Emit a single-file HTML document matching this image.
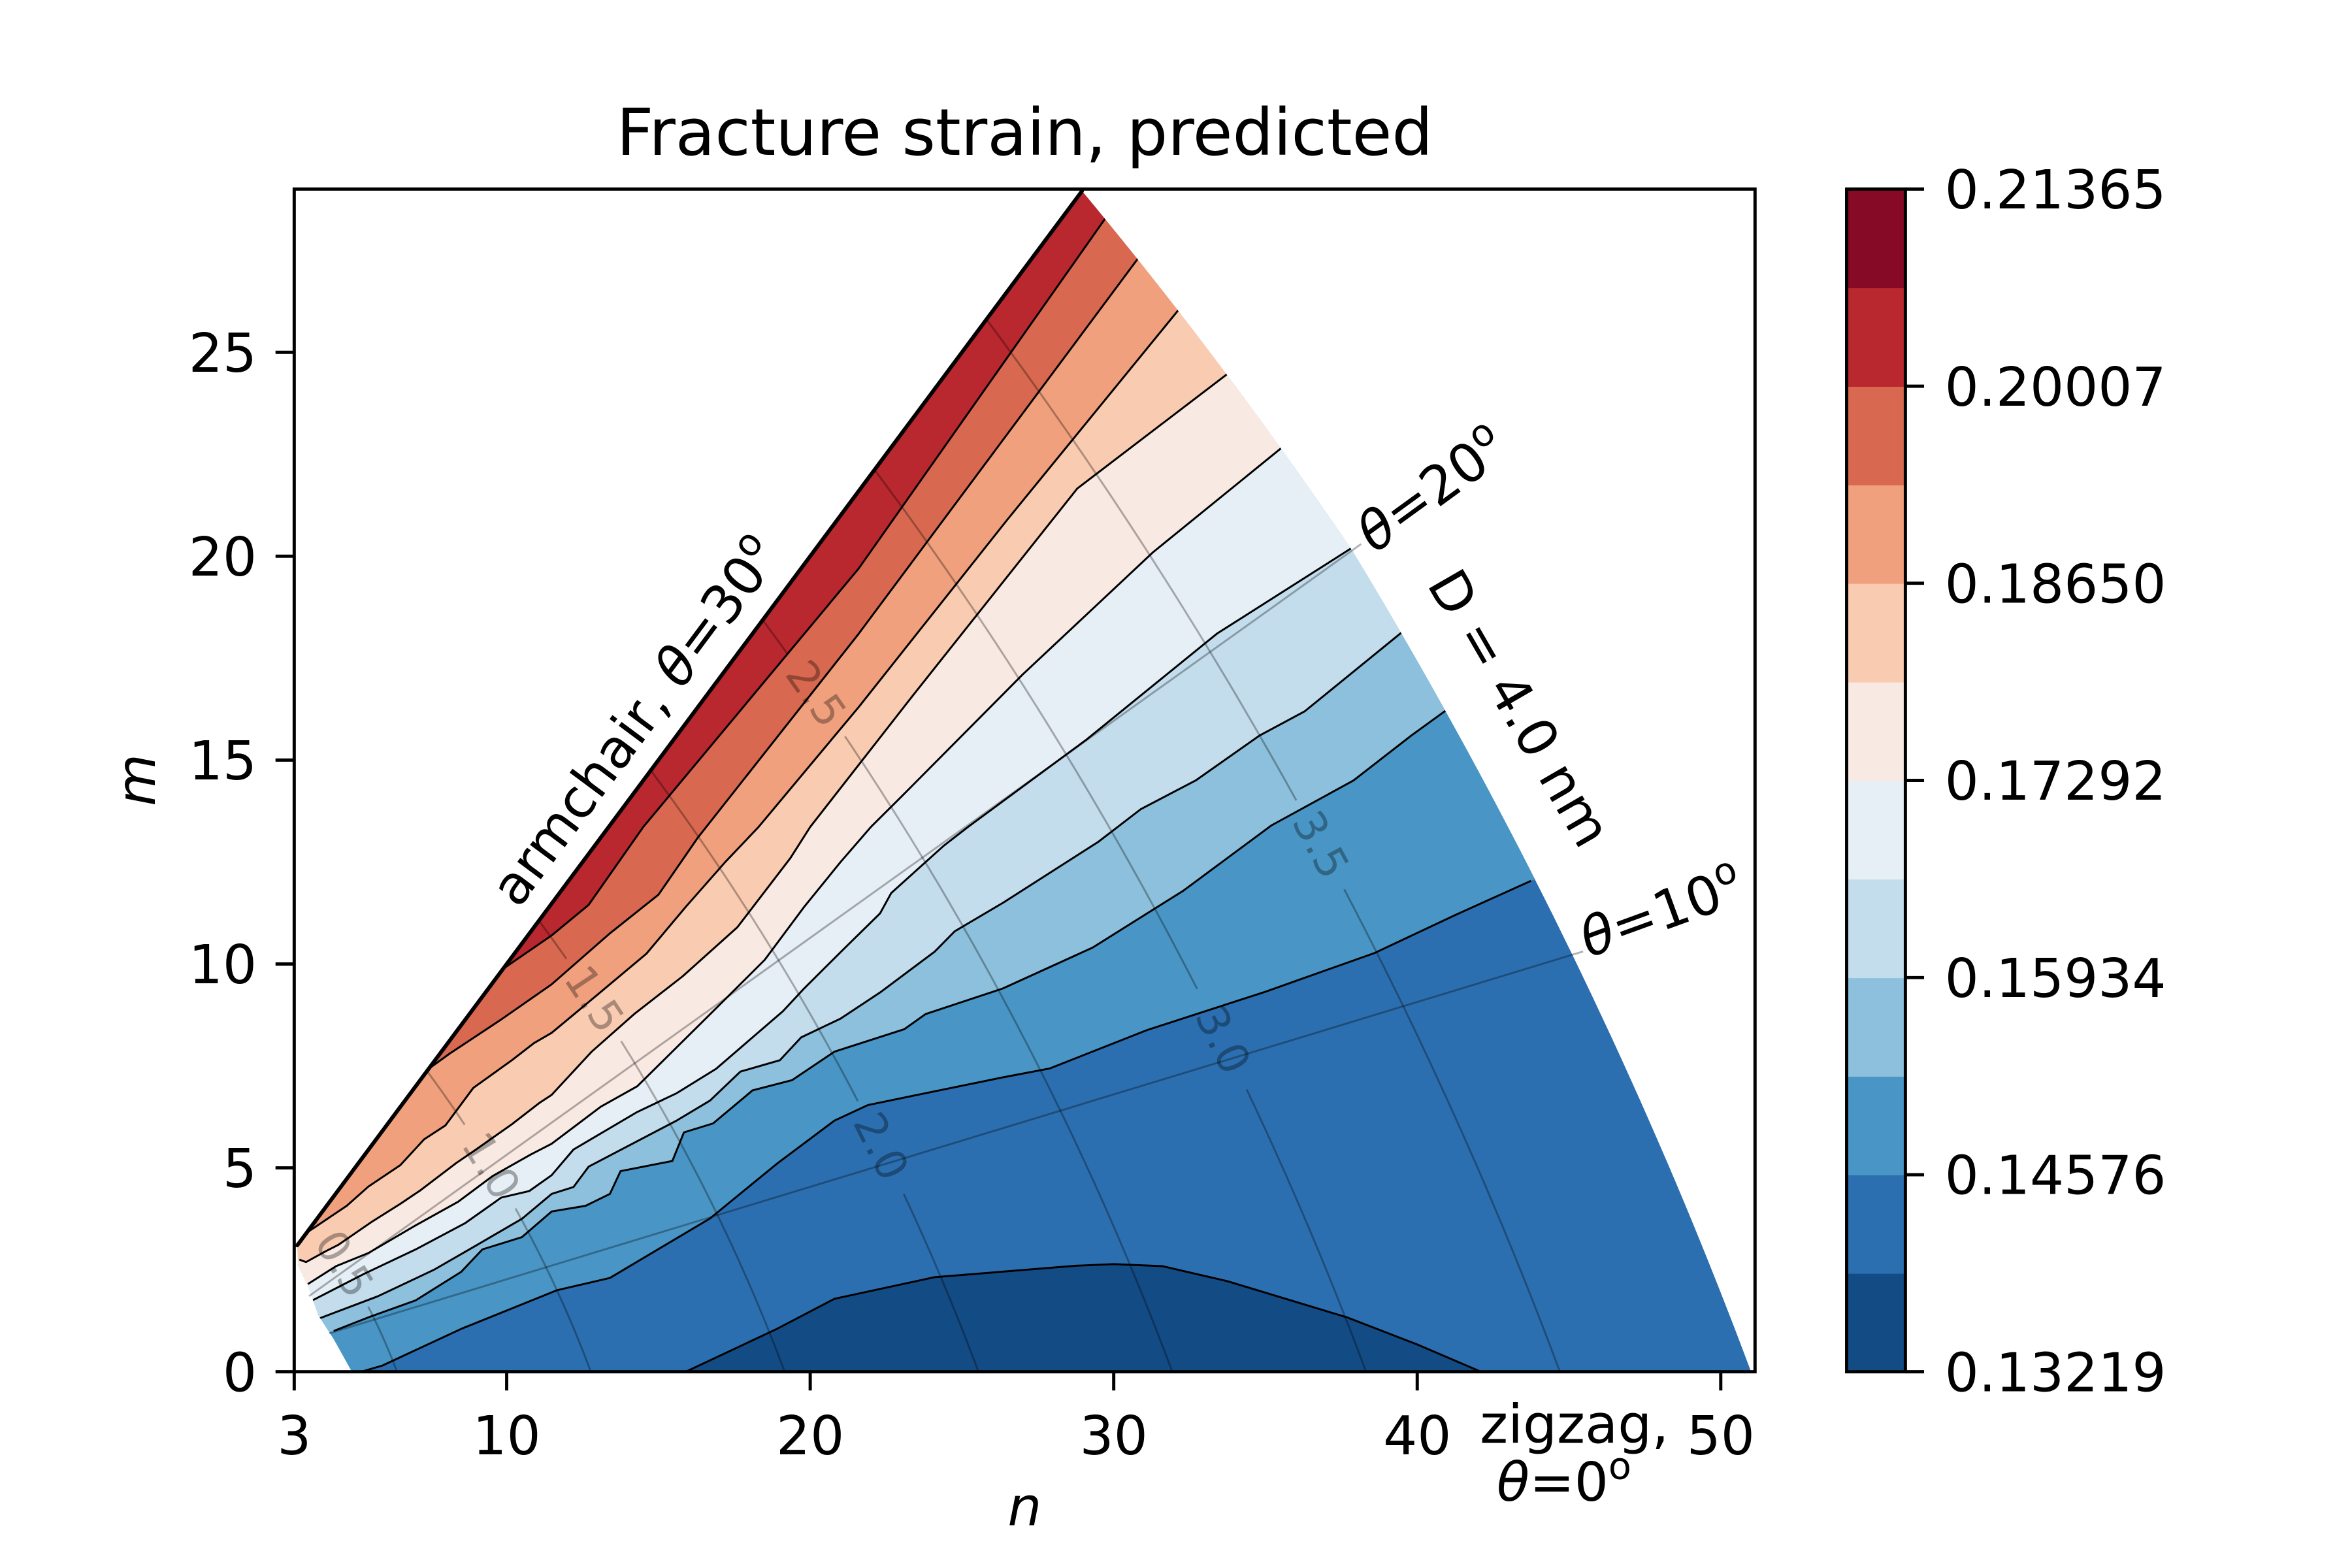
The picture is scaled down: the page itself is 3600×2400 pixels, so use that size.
<!DOCTYPE html>
<html>
<head>
<meta charset="utf-8">
<style>
html,body{margin:0;padding:0;background:#fff;}
svg{display:block;}
text{font-family:"DejaVu Sans","Liberation Sans",sans-serif;}
</style>
</head>
<body>
<svg id="chart" xmlns="http://www.w3.org/2000/svg" width="3600" height="2400" viewBox="0 0 3600 2400">
  <rect x="0" y="0" width="3600" height="2400" fill="#ffffff"/>
  <defs>
    <clipPath id="domainClip"><path id="domainPath" d=""/></clipPath>
  </defs>
  <g transform="scale(0.9876)">
  <g id="fills" clip-path="url(#domainClip)"></g>
  <g id="lines" clip-path="url(#domainClip)"></g>
  <g id="guides"></g>
  <g id="axes"></g>
  <g id="cbar"></g>
  <g id="annot"></g>
  </g>
</svg>
<script>
// ---------- data ----------
const levels = [0.13219,0.13898,0.14576,0.15255,0.15934,0.16613,0.17292,0.1797,0.18650,0.19328,0.20007,0.20686,0.21365];
const bandColors = ['#134b85','#2c6fb0','#4996c6','#8dc0dc','#c3dded','#e6eff5','#f8e9e2','#f9cbb1','#f0a07d','#d8684f','#b9272f','#860a25'];
const xTicks = [3,10,20,30,40,50];
const yTicks = [0,5,10,15,20,25];
const cbarTickLabels = ['0.13219','0.14576','0.15934','0.17292','0.18650','0.20007','0.21365'];
const diamLevels = [0.5,1.0,1.5,2.0,2.5,3.0,3.5];
const diamLabelTheta = [21,20,24.4,10.8,26.8,10.6,14.5];
const angleLines = [10,20];
// contour lines (n, m) for level boundaries levels[1..10]
const c1 = [[15.9,0],[18.9,1.05],[20.8,1.79],[24.1,2.32],[28.75,2.6],[30,2.64],[31.6,2.59],[33.75,2.22],[37.7,1.33],[40,0.67],[42.1,0]];
const c2 = [[5.2,0],[5.9,0.15],[8.5,1.05],[11.66,2.0],[13.4,2.3],[16.7,3.76],[18.9,5.1],[20.8,6.16],[21.9,6.54],[23.4,6.77],[26.35,7.22],[27.9,7.44],[31.1,8.38],[35,9.32],[38.6,10.27],[41.25,11.2],[43.75,12.04]];
const c3 = [[4.3,1.0],[5.5,1.35],[7,1.75],[8.5,2.45],[9.2,3.0],[10.5,3.3],[11.48,3.93],[12.6,4.07],[13.4,4.36],[13.75,4.92],[15.46,5.17],[15.84,5.87],[16.8,6.09],[18.1,6.9],[19.4,7.15],[20.8,7.85],[23.1,8.4],[23.8,8.77],[26.35,9.4],[29.3,10.4],[32.3,11.8],[35.2,13.4],[37.9,14.5],[39.8,15.6],[41.1,16.3]];
const c4 = [[3.8,1.3],[5.75,1.85],[7.6,2.5],[9.0,3.1],[10.5,3.75],[11.48,4.36],[12.2,4.53],[12.7,5.03],[15.6,6.16],[16.7,6.65],[17.7,7.36],[19.0,7.64],[19.7,8.2],[21.0,8.66],[22.3,9.3],[24.1,10.3],[24.76,10.8],[26.35,11.5],[29.5,13.0],[30.9,13.8],[32.7,14.5],[34.8,15.6],[36.3,16.2],[39.6,18.2]];
const c5 = [[3.6,1.75],[5.3,2.4],[7,3.0],[8.62,3.64],[9.82,4.27],[10.74,4.43],[11.48,4.82],[12.2,5.45],[14.3,6.37],[15.6,6.83],[16.9,7.43],[19.1,8.84],[19.8,9.4],[21.15,10.4],[22.3,11.24],[22.67,11.74],[24.4,12.9],[25.2,13.36],[29.1,15.5],[33.4,18.1],[38.05,20.3]];
const c6 = [[3.45,2.15],[4.38,2.59],[5.44,2.91],[7,3.59],[8.4,4.17],[9.54,4.8],[10.8,5.33],[11.48,5.59],[13.1,6.5],[14.3,7.0],[16.8,8.84],[18.5,10.1],[19.8,11.4],[21.0,12.5],[22.0,13.36],[23.0,14.1],[27,17.1],[31.3,20.1],[35.6,22.7]];
const c7 = [[3.17,2.75],[3.39,2.69],[4.02,2.95],[4.45,3.11],[5.58,3.69],[6.5,4.12],[7.14,4.44],[8.34,5.12],[8.97,5.44],[10.17,6.07],[11.09,6.6],[11.48,6.79],[12.8,7.85],[14.2,8.77],[15.8,9.7],[17.6,10.9],[19.35,12.6],[20.0,13.36],[23.4,16.6],[28.8,21.66],[33.8,24.5]];
const c8 = [[3.18,3.3],[3.67,3.54],[4.73,4.07],[5.44,4.54],[6.5,5.07],[7.28,5.7],[7.98,6.04],[8.9,6.96],[10.17,7.64],[10.9,8.06],[11.48,8.31],[12.9,9.19],[14.6,10.25],[15.9,11.4],[17.2,12.5],[18.3,13.36],[21.6,16.3],[26.5,20.9],[32.2,26.1]];
const c9 = [[7.28,7.35],[8.12,7.8],[9.82,8.64],[11.48,9.5],[13.4,10.75],[15.0,11.7],[16.3,13.1],[21.6,18.1],[30.9,27.4]];
const c10 = [[9.82,9.85],[11.48,10.7],[12.7,11.45],[14.5,13.36],[21.6,19.7],[29.87,28.44]];
const contours = [c1,c2,c3,c4,c5,c6,c7,c8,c9,c10];

// ---------- axis functions ----------
const NS = 'http://www.w3.org/2000/svg';
const AX = {left:456,right:2720,top:293,bottom:2126};
const X = n => AX.left + (n-3)*47.04;
const Y = m => AX.bottom - m*63.2;
const S3 = Math.sqrt(3);
const RB = th => th <= 20 ? 51.0 : 51.0 - 0.085*(th-20);   // D = 4 nm boundary radius
function nm(R, thDeg){ const t = thDeg*Math.PI/180; return [R*Math.cos(t) - R*Math.sin(t)/S3, 2*R*Math.sin(t)/S3]; }
function mk(tag, parent){ const e = document.createElementNS(NS, tag); parent.appendChild(e); return e; }
function pathOf(pts){ return pts.map((p,i)=>(i?'L':'M')+X(p[0]).toFixed(1)+','+Y(p[1]).toFixed(1)).join(' '); }

// ---------- domain ----------
const domainPts = [[4.9,0],[4.3,0.8],[3.8,1.38],[3.46,2.1],[3.13,2.6],[3.1,3.1]];
for (let th=30; th>=0; th-=0.5) domainPts.push(nm(RB(th), th));
document.getElementById('domainPath').setAttribute('d', pathOf(domainPts)+' Z');

// ---------- fills ----------
const fills = document.getElementById('fills');
const base = mk('path', fills);
base.setAttribute('d', pathOf(domainPts)+' Z');
base.setAttribute('fill', bandColors[1]);



const b0 = mk('path', fills);
b0.setAttribute('d', pathOf([[c1[0][0],-1]].concat(c1,[[c1[c1.length-1][0],-1]]))+' Z');
b0.setAttribute('fill', bandColors[0]);



for (let k=2; k<=10; k++){
  const c = contours[k-1];
  const s = c[0], e = c[c.length-1];
  const pts = [[-10, s[1]*0.5],[s[0]*0.5, s[1]*0.5]].concat(c, [[e[0]*1.2, e[1]*1.2],[70,70],[-10,70]]);
  const p = mk('path', fills);
  p.setAttribute('d', pathOf(pts)+' Z');
  p.setAttribute('fill', bandColors[k]);
  
  
}

// ---------- contour lines ----------
const lines = document.getElementById('lines');
contours.forEach((c,i)=>{
  const p = mk('path', lines);
  p.setAttribute('d', pathOf(c));
  p.setAttribute('fill', 'none');
  p.setAttribute('stroke', '#000');
  p.setAttribute('stroke-width', '3');
  p.setAttribute('stroke-linejoin', 'round');
  
  
});

// armchair edge line
const guides = document.getElementById('guides');
const arm = mk('path', guides);
arm.setAttribute('d', pathOf([[3.1,3.1], nm(RB(30),30)]));
arm.setAttribute('stroke', '#000');
arm.setAttribute('stroke-width', '6');
arm.setAttribute('stroke-linecap', 'round');



// ---------- diameter iso-lines ----------
diamLevels.forEach((D,i)=>{
  const R = D/0.0783;
  const thL = diamLabelTheta[i];
  const lp = nm(R, thL);
  const lx = X(lp[0]), ly = Y(lp[1]);
  let d = '', pen = false;
  for (let th=30; th>=-0.01; th-=0.25){
    const q = nm(R, Math.max(th,0));
    const x = X(q[0]), y = Y(q[1]);
    const far = Math.hypot(x-lx, y-ly) > 75;
    if (far){ d += (pen?'L':'M')+x.toFixed(1)+','+y.toFixed(1)+' '; pen = true; } else pen = false;
  }
  const p = mk('path', guides);
  p.setAttribute('d', d);
  p.setAttribute('fill', 'none');
  p.setAttribute('stroke', 'rgba(0,0,0,0.3)');
  p.setAttribute('stroke-width', '3');
  p.setAttribute('clip-path', 'url(#domainClip)');
  
  
  const t = thL*Math.PI/180;
  const dn = R*(-Math.sin(t) - Math.cos(t)/S3), dm = 2*R*Math.cos(t)/S3;
  let ang = Math.atan2(-63.2*dm, 47.04*dn)*180/Math.PI;
  if (ang > 90) ang -= 180; if (ang <= -90) ang += 180;
  const tx = mk('text', guides);
  tx.textContent = D.toFixed(1);
  tx.setAttribute('x', 0); tx.setAttribute('y', 0);
  tx.setAttribute('transform', 'translate('+lx.toFixed(1)+','+ly.toFixed(1)+') rotate('+ang.toFixed(1)+')');
  tx.setAttribute('text-anchor', 'middle');
  tx.setAttribute('dominant-baseline', 'central');
  tx.setAttribute('font-size', '67');
  tx.setAttribute('fill', 'rgba(0,0,0,0.32)');
  
  
});

// ---------- chiral angle lines ----------
angleLines.forEach(th=>{
  const p = mk('path', guides);
  p.setAttribute('d', pathOf([nm(4.7, th), nm(51.4, th)]));
  p.setAttribute('stroke', 'rgba(0,0,0,0.3)');
  p.setAttribute('stroke-width', '3');
  
  
});

// ---------- axes ----------
const axes = document.getElementById('axes');
const frame = mk('rect', axes);
frame.setAttribute('x', AX.left); frame.setAttribute('y', AX.top);
frame.setAttribute('width', AX.right-AX.left); frame.setAttribute('height', AX.bottom-AX.top);
frame.setAttribute('fill', 'none'); frame.setAttribute('stroke', '#000'); frame.setAttribute('stroke-width', '5');


xTicks.forEach(v=>{
  const l = mk('line', axes);
  l.setAttribute('x1', X(v)); l.setAttribute('x2', X(v)); l.setAttribute('y1', AX.bottom); l.setAttribute('y2', AX.bottom+29);
  l.setAttribute('stroke', '#000'); l.setAttribute('stroke-width', '5');
  
  
  const t = mk('text', axes);
  t.textContent = String(v);
  t.setAttribute('x', X(v)); t.setAttribute('y', 2254);
  t.setAttribute('text-anchor', 'middle'); t.setAttribute('font-size', '83');
  
  
});
yTicks.forEach(v=>{
  const l = mk('line', axes);
  l.setAttribute('x1', AX.left-29); l.setAttribute('x2', AX.left); l.setAttribute('y1', Y(v)); l.setAttribute('y2', Y(v));
  l.setAttribute('stroke', '#000'); l.setAttribute('stroke-width', '5');
  
  
  const t = mk('text', axes);
  t.textContent = String(v);
  t.setAttribute('x', 398); t.setAttribute('y', Y(v)+30);
  t.setAttribute('text-anchor', 'end'); t.setAttribute('font-size', '83');
  
  
});
const xl = mk('text', axes);
xl.textContent = 'n';
xl.setAttribute('x', 1588); xl.setAttribute('y', 2364);
xl.setAttribute('text-anchor', 'middle'); xl.setAttribute('font-size', '83'); xl.setAttribute('font-style', 'italic');


const yl = mk('text', axes);
yl.textContent = 'm';
yl.setAttribute('transform', 'translate(240,1209) rotate(-90)');
yl.setAttribute('text-anchor', 'middle'); yl.setAttribute('font-size', '83'); yl.setAttribute('font-style', 'italic');


const title = mk('text', axes);
title.textContent = 'Fracture strain, predicted';
title.setAttribute('x', 1588); title.setAttribute('y', 240);
title.setAttribute('text-anchor', 'middle'); title.setAttribute('font-size', '100');



// ---------- colorbar ----------
const cbar = document.getElementById('cbar');
const CB = {x:2862, w:91, top:293, bottom:2126};
const CY = v => CB.bottom - (v-levels[0])/(levels[levels.length-1]-levels[0])*(CB.bottom-CB.top);
bandColors.forEach((col,i)=>{
  const r = mk('rect', cbar);
  r.setAttribute('x', CB.x); r.setAttribute('width', CB.w);
  r.setAttribute('y', CY(levels[i+1]).toFixed(1)); r.setAttribute('height', (CY(levels[i])-CY(levels[i+1])+0.8).toFixed(1));
  r.setAttribute('fill', col);
  
  
});
const cbf = mk('rect', cbar);
cbf.setAttribute('x', CB.x); cbf.setAttribute('y', CB.top); cbf.setAttribute('width', CB.w); cbf.setAttribute('height', CB.bottom-CB.top);
cbf.setAttribute('fill', 'none'); cbf.setAttribute('stroke', '#000'); cbf.setAttribute('stroke-width', '5');


cbarTickLabels.forEach((lab,i)=>{
  const y = CY(levels[i*2]);
  const l = mk('line', cbar);
  l.setAttribute('x1', CB.x+CB.w); l.setAttribute('x2', CB.x+CB.w+29); l.setAttribute('y1', y); l.setAttribute('y2', y);
  l.setAttribute('stroke', '#000'); l.setAttribute('stroke-width', '5');
  
  
  const t = mk('text', cbar);
  t.textContent = lab;
  t.setAttribute('x', 3014); t.setAttribute('y', y+30);
  t.setAttribute('font-size', '83');
  
  
});

// ---------- annotations ----------
const annot = document.getElementById('annot');
function thetaText(prefix, val, x, y, rot, anchor, name){
  const t = mk('text', annot);
  t.setAttribute('transform', 'translate('+x+','+y+') rotate('+rot+')');
  t.setAttribute('text-anchor', anchor);
  t.setAttribute('font-size', '83');
  
  
  if (prefix){ const a = mk('tspan', t); a.textContent = prefix; }
  const th = mk('tspan', t); th.textContent = 'θ'; th.setAttribute('font-style', 'italic');
  const eq = mk('tspan', t); eq.textContent = '=' + val;
  const o = mk('tspan', t); o.textContent = 'o'; o.setAttribute('font-size', '58'); o.setAttribute('dy', '-34');
  return t;
}
thetaText('armchair, ', '30', 1008, 1135, -53.3, 'middle', 'armchair-label');
thetaText('', '20', 2236, 782, -36, 'middle', 'theta-20-label');
thetaText('', '10', 2585, 1440, -20, 'middle', 'theta-10-label');
const dl = mk('text', annot);
dl.textContent = 'D = 4.0 nm';
dl.setAttribute('transform', 'translate(2330,1112) rotate(60)');
dl.setAttribute('text-anchor', 'middle');
dl.setAttribute('font-size', '83');


const zz = mk('text', annot);
zz.textContent = 'zigzag,';
zz.setAttribute('x', 2440); zz.setAttribute('y', 2236);
zz.setAttribute('text-anchor', 'middle'); zz.setAttribute('font-size', '83');


thetaText('', '0', 2424, 2326, 0, 'middle', 'theta-0-label');
</script>
</body>
</html>
